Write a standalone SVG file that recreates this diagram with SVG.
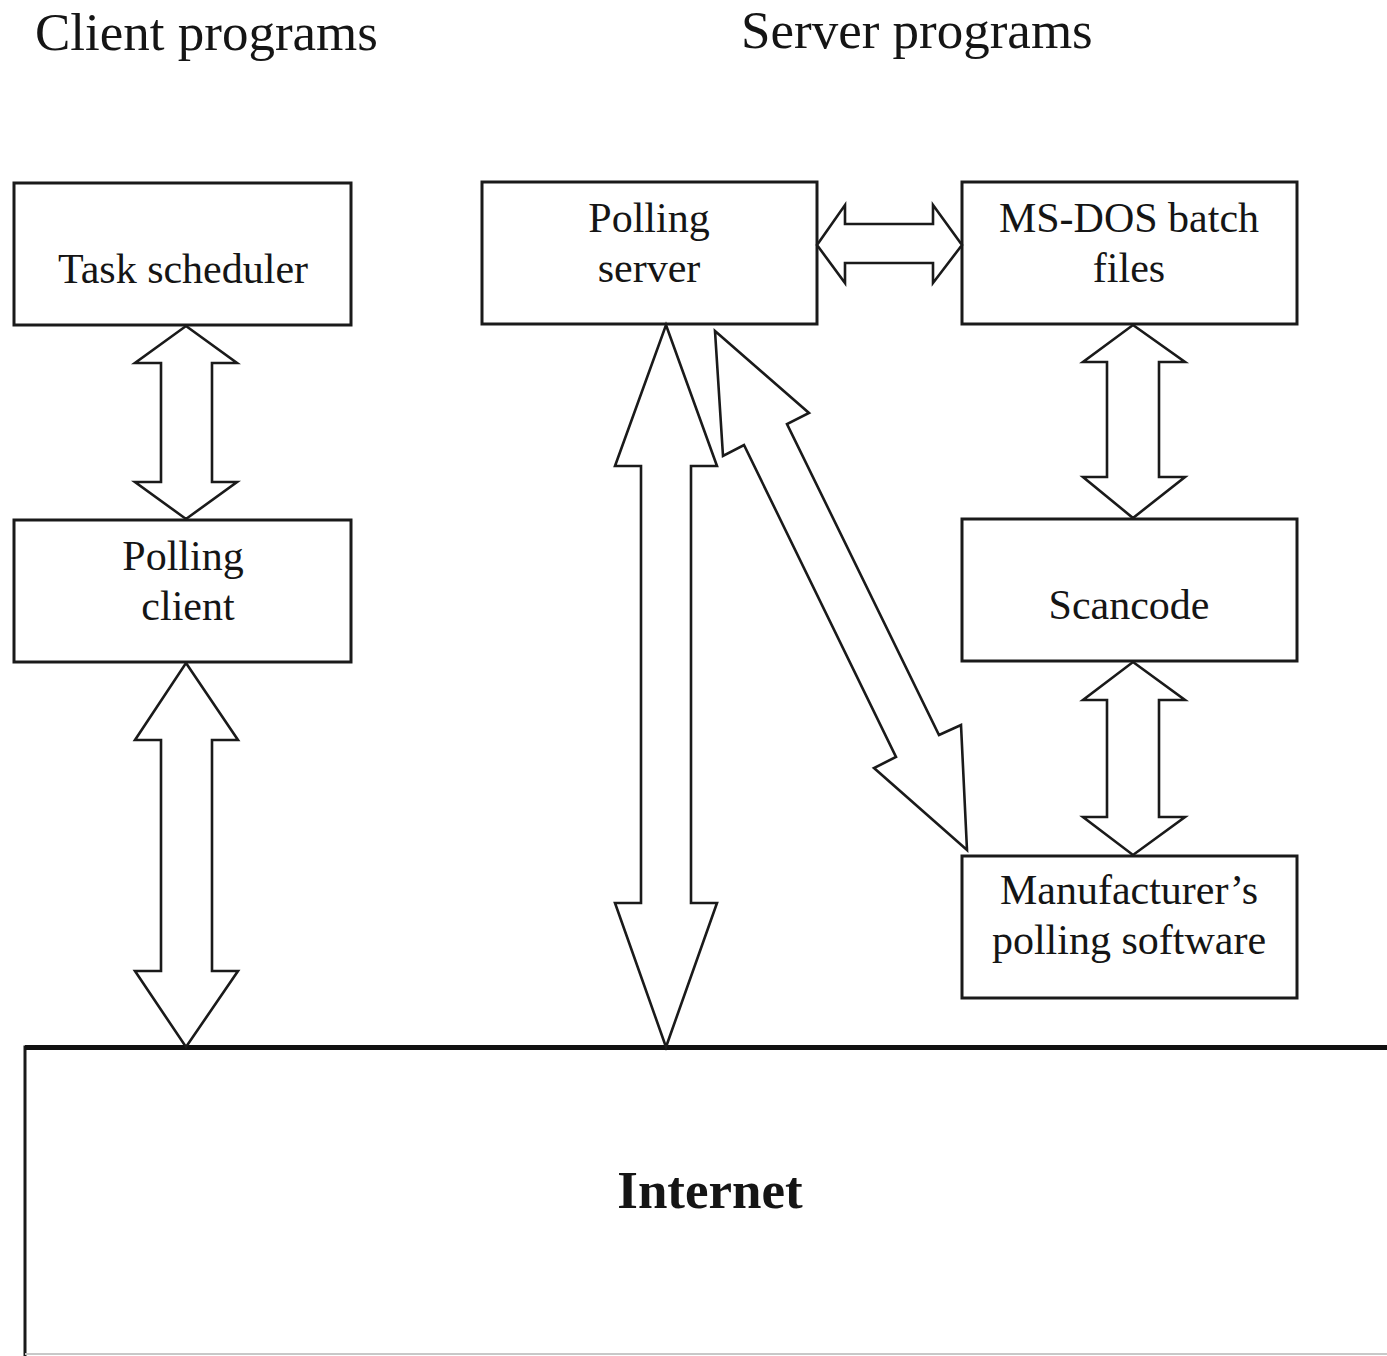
<svg xmlns="http://www.w3.org/2000/svg" width="1387" height="1356" viewBox="0 0 1387 1356">
<style>
.box{fill:#fff;stroke:#1a1a1a;stroke-width:3}
.arr{fill:#fff;stroke:#1a1a1a;stroke-width:2.6;stroke-linejoin:miter}
.t{font-family:"Liberation Serif","Times New Roman",serif;font-size:42px;fill:#151515;text-anchor:middle}
.h{font-family:"Liberation Serif","Times New Roman",serif;font-size:53px;fill:#151515}
</style>
<rect width="1387" height="1356" fill="#fff"/>
<text class="h" x="35" y="50">Client programs</text>
<text class="h" x="741" y="48">Server programs</text>

<g id="internet">
<path d="M25,1356 V1047 H1387" fill="none" stroke="#1a1a1a" stroke-width="3"/>
<path d="M25,1047.5 H1387" fill="none" stroke="#111" stroke-width="5"/>
<path d="M25,1354 H1387" fill="none" stroke="#c8c8c8" stroke-width="2"/>
<text x="710" y="1208" font-family="'Liberation Serif','Times New Roman',serif" font-size="53" font-weight="bold" fill="#151515" text-anchor="middle">Internet</text>
</g>

<g id="task-scheduler">
<rect class="box" x="14" y="183" width="337" height="142"/>
<text class="t" x="183" y="283">Task scheduler</text>
</g>
<g id="polling-client">
<rect class="box" x="14" y="520" width="337" height="142"/>
<text class="t" x="183" y="570">Polling</text>
<text class="t" x="188" y="620">client</text>
</g>
<g id="polling-server">
<rect class="box" x="482" y="182" width="335" height="142"/>
<text class="t" x="649" y="232">Polling</text>
<text class="t" x="649" y="282">server</text>
</g>
<g id="msdos-batch">
<rect class="box" x="962" y="182" width="335" height="142"/>
<text class="t" x="1129" y="232">MS-DOS batch</text>
<text class="t" x="1129" y="282">files</text>
</g>
<g id="scancode">
<rect class="box" x="962" y="519" width="335" height="142"/>
<text class="t" x="1129" y="619">Scancode</text>
</g>
<g id="manufacturer">
<rect class="box" x="962" y="856" width="335" height="142"/>
<text class="t" x="1129" y="904">Manufacturer’s</text>
<text class="t" x="1129" y="954">polling software</text>
</g>

<g id="connectors">
<polygon class="arr" points="186,326 237,363 212,363 212,482 237,482 186,519 135,482 161,482 161,363 135,363"/>
<polygon class="arr" points="186,663 238,740 212,740 212,971 238,971 186,1047 135,971 161,971 161,740 135,740"/>
<polygon class="arr" points="666,325 717,466 691,466 691,903 717,903 666,1047 615,903 641,903 641,466 615,466"/>
<polygon class="arr" points="817,245 845,205 845,224 933,224 933,205 962,245 933,283 933,263 845,263 845,283"/>
<polygon class="arr" points="1133,325 1185,362 1159,362 1159,477 1185,477 1133,518 1083,477 1107,477 1107,362 1083,362"/>
<polygon class="arr" points="1133,662 1185,700 1159,700 1159,817 1185,817 1133,855 1083,817 1107,817 1107,700 1083,700"/>
<polygon class="arr" points="715,331 809,413 787,424 939,735 961,725 967,850 874,768 896,757 744,445 723,456"/>
</g>
</svg>
